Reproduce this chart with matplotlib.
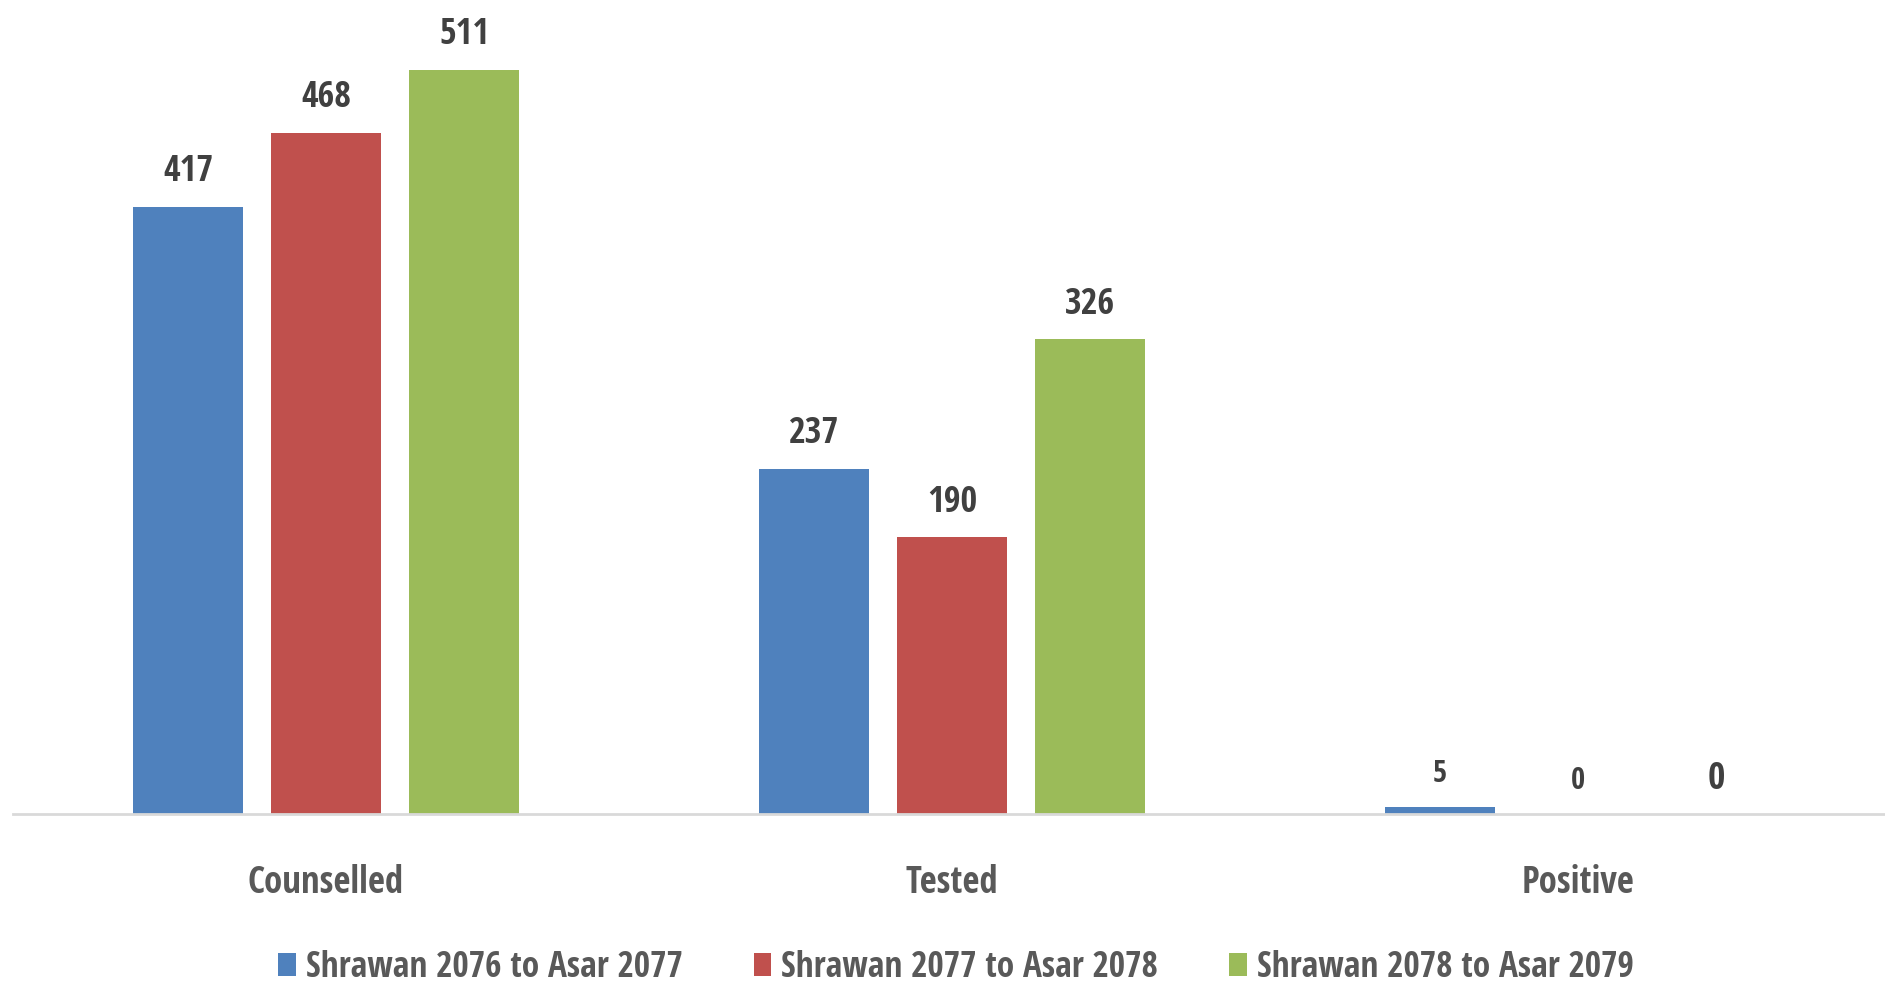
import matplotlib
matplotlib.use("Agg")
import matplotlib.pyplot as plt
import numpy as np

categories = ["Counselled", "Tested", "Positive"]
series_names = ["Shrawan 2076 to Asar 2077", "Shrawan 2077 to Asar 2078", "Shrawan 2078 to Asar 2079"]
s2077 = [417, 237, 5]
s2078 = [468, 190, 0]
s2079 = [511, 326, 0]
series_values = [s2077, s2078, s2079]
colors = ["#4F81BD", "#C0504D", "#9BBB59"]

FAM = ["Open Sans Condensed", "DejaVu Sans"]

W, H = 1885, 986
fig = plt.figure(figsize=(W / 100, H / 100), dpi=100)
ax = fig.add_axes([13 / W, 1 - 814 / H, 1 - 13 / W, 814 / H])

x = np.arange(len(categories))
bw = 0.1757
step = 0.2204
for i, (vals, c, name) in enumerate(zip(series_values, colors, series_names)):
    xs = x + (i - 1) * step
    bars = ax.bar(xs, vals, width=bw, color=c, label=name, zorder=2)
    for j, (b, v) in enumerate(zip(bars, vals)):
        if j == 2:
            size = 22 if i < 2 else 27
            off = 18
        else:
            size = 26
            off = 18.5
        ax.annotate(str(v), (b.get_x() + b.get_width() / 2, v), xytext=(0, off),
                    textcoords="offset points", ha="center", va="baseline",
                    fontsize=size, fontweight="bold", color="#404040",
                    family=FAM)

ax.set_xlim(-0.5, 2.49)
ax.set_ylim(0, 559)
ax.set_xticks(x)
ax.set_xticklabels(categories, fontsize=26.5, fontweight="bold", color="#595959",
                   family=FAM)
ax.tick_params(axis="x", length=0, pad=36)
ax.set_yticks([])
for s in ["top", "right", "left"]:
    ax.spines[s].set_visible(False)
ax.spines["bottom"].set_color("#D9D9D9")
ax.spines["bottom"].set_linewidth(2)

leg = fig.legend(loc="center", bbox_to_anchor=(956 / W, 1 - 968 / H), ncol=3,
                 frameon=False, handlelength=0.5, handleheight=0.6,
                 handletextpad=0.28, columnspacing=2.0,
                 prop={"family": FAM, "size": 25.5, "weight": "bold"})
for t in leg.get_texts():
    t.set_color("#595959")

fig.savefig("out.png", dpi=100)
